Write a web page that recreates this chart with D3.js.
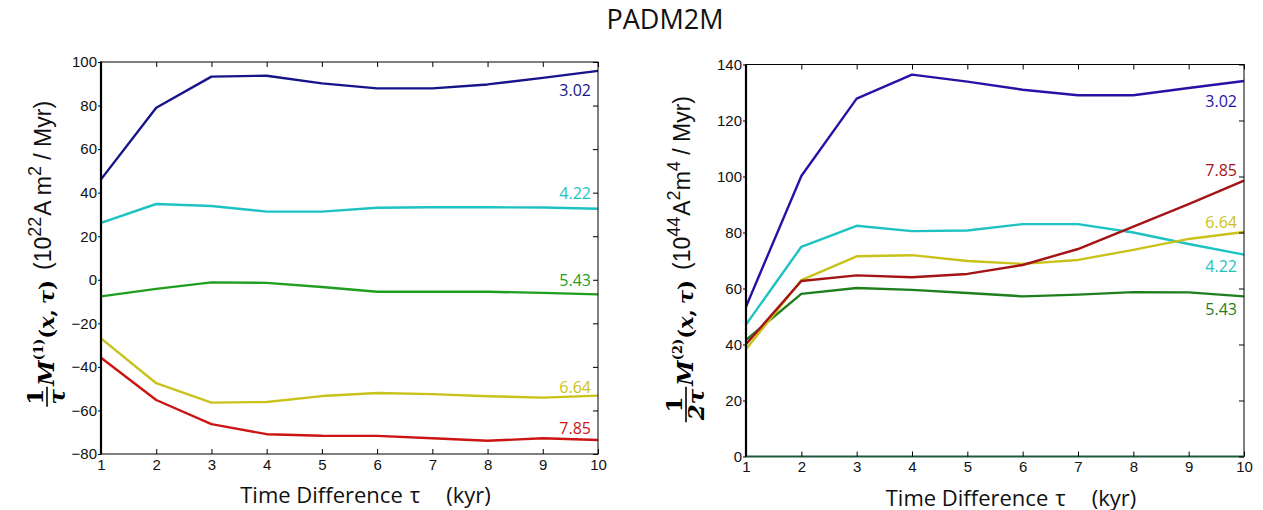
<!DOCTYPE html>
<html>
<head>
<meta charset="utf-8">
<script src="https://cdn.jsdelivr.net/npm/d3@7"></script>
<style>
  body { margin: 0; background: #fff; }
  svg { display: block; }
</style>
</head>
<body>
<svg id="chart" width="1263" height="510"></svg>
<script>
// ---- data -------------------------------------------------------------
const tau = [1, 2, 3, 4, 5, 6, 7, 8, 9, 10];
const seriesNames = ["3.02", "4.22", "5.43", "6.64", "7.85"];

// first moment, 1/τ M(1)(x,τ)  [10^22 A m^2 / Myr]
const m1_302 = [46.1, 79.0, 93.3, 93.7, 90.2, 87.9, 87.9, 89.7, 92.7, 95.9];
const m1_422 = [26.1, 34.8, 33.9, 31.3, 31.3, 33.1, 33.3, 33.3, 33.2, 32.6];
const m1_543 = [-7.6, -4.2, -1.2, -1.4, -3.3, -5.5, -5.5, -5.5, -6.0, -6.7];
const m1_664 = [-26.9, -47.5, -56.4, -56.1, -53.4, -52.0, -52.5, -53.5, -54.1, -53.2];
const m1_785 = [-35.8, -55.2, -66.3, -70.9, -71.6, -71.7, -72.8, -73.9, -72.8, -73.6];

// second moment, 1/2τ M(2)(x,τ)  [10^44 A^2 m^4 / Myr]
const m2_302 = [53.5, 100.2, 127.8, 136.4, 133.9, 131.0, 129.0, 129.0, 131.6, 134.1];
const m2_422 = [47.1, 74.9, 82.4, 80.5, 80.7, 83.0, 83.0, 80.0, 75.9, 72.1];
const m2_543 = [41.6, 58.1, 60.2, 59.5, 58.4, 57.2, 57.8, 58.7, 58.6, 57.2];
const m2_664 = [38.3, 63.0, 71.5, 71.9, 69.8, 68.8, 70.2, 73.8, 77.7, 80.2];
const m2_785 = [40.1, 62.7, 64.7, 64.0, 65.2, 68.4, 74.1, 82.1, 90.1, 98.5];

// where each series name sits (y in data units, next to the line end)
const m1LabelY = [84.4, 37.1, -2.8, -52.0, -70.8];
const m2LabelY = [124.8, 100.2, 81.6, 65.9, 50.5];
const m2LabelOrder = ["3.02", "7.85", "6.64", "4.22", "5.43"];

const m1Ticks = [-80, -60, -40, -20, 0, 20, 40, 60, 80, 100];
const m2Ticks = [0, 20, 40, 60, 80, 100, 120, 140];

// ---- drawing ----------------------------------------------------------
const svg = d3.select("#chart");
const sansTick = "'Liberation Sans', Arial, sans-serif";
const sansText = "'Open Sans', 'Noto Sans', sans-serif";
const serif = "'DejaVu Serif', 'Liberation Serif', serif";
const fmt = d => (d < 0 ? "\u2212" + Math.abs(d) : String(d));

svg.append("text")
  .attr("x", 665).attr("y", 29)
  .attr("text-anchor", "middle")
  .style("font-family", sansText).style("font-size", "27px").style("fill", "#111")
  .text("PADM2M");

function panel(opt) {
  const g = svg.append("g").attr("transform", `translate(${opt.left},${opt.top})`);
  const w = opt.width, h = opt.height;
  const x = d3.scaleLinear().domain([1, 10]).range([0, w]);
  const y = d3.scaleLinear().domain(opt.yDomain).range([h, 0]);

  const line = d3.line().x((d, i) => x(tau[i])).y(d => y(d));
  opt.series.forEach(s => {
    g.append("path").datum(s.values)
      .attr("d", line).attr("fill", "none")
      .attr("stroke", s.color).attr("stroke-width", 2.4)
      .attr("stroke-linejoin", "round");
  });

  // frame
  g.append("rect").attr("x", 0).attr("y", 0).attr("width", w).attr("height", h)
    .attr("fill", "none").attr("stroke", "#000").attr("stroke-width", 1);
  g.append("line").attr("x1", 0).attr("x2", 0).attr("y1", -0.5).attr("y2", h + 0.5)
    .attr("stroke", "#000").attr("stroke-width", 2.2);
  if (opt.zeroLine) {
    g.append("line").attr("x1", 0).attr("x2", w)
      .attr("y1", y(0)).attr("y2", y(0))
      .attr("stroke", opt.zeroLine).attr("stroke-width", 1.8);
  }

  const ay = g.append("g").call(d3.axisLeft(y).tickValues(opt.ticks).tickFormat(fmt)
    .tickSizeInner(3).tickSizeOuter(0).tickPadding(1));
  const ar = g.append("g").attr("transform", `translate(${w},0)`)
    .call(d3.axisLeft(y).tickValues(opt.ticks).tickFormat("").tickSizeInner(5).tickSizeOuter(0));
  const at = g.append("g")
    .call(d3.axisBottom(x).tickValues(tau).tickFormat("").tickSizeInner(5).tickSizeOuter(0));
  const ab = g.append("g").attr("transform", `translate(0,${h})`)
    .call(d3.axisBottom(x).tickValues(tau).tickFormat(d3.format("d"))
      .tickSizeInner(-5).tickSizeOuter(0).tickPadding(5));
  [ay, ar, at, ab].forEach(a => {
    a.select(".domain").remove();
    a.selectAll("line").attr("stroke", "#000").attr("stroke-width", 1);
    a.selectAll("text").style("font-family", sansTick).style("font-size", "15px").attr("fill", "#111");
  });

  // series names near line ends
  opt.labels.forEach(l => {
    g.append("text").attr("x", x(10) - 7).attr("y", y(l.y))
      .attr("text-anchor", "end")
      .style("font-family", sansText).style("font-size", "16px")
      .attr("fill", l.color).text(l.name);
  });

  // x axis title
  const xt = svg.append("text")
    .attr("x", opt.left + w / 2 + 16).attr("y", opt.top + h + 49)
    .attr("text-anchor", "middle")
    .style("font-family", sansText).style("font-size", "22px").attr("fill", "#111");
  xt.append("tspan").text("Time Difference");
  xt.append("tspan").attr("dx", 7).text("\u03c4");
  xt.append("tspan").attr("dx", 26).text("(kyr)");

  // y axis title along a rotated baseline; x' = -screenY
  const yl = svg.append("g")
    .attr("transform", `translate(${opt.labelX},0) rotate(-90)`);

  // units, reading upward from uStart
  const ut = yl.append("text").attr("x", -opt.uStart).attr("y", -3)
    .style("font-family", sansTick).style("font-size", "23px").attr("fill", "#111");
  opt.units.forEach(p => {
    const t = ut.append("tspan").text(p.t);
    if (p.sup) t.style("font-size", "18px").attr("dy", -10);
    if (p.down) t.attr("dy", 10);
    if (p.dx) t.attr("dx", p.dx);
  });

  // M(n)(x, τ), ending just below the units
  const mt = yl.append("text").attr("x", -(opt.uStart + 10)).attr("y", 0)
    .attr("text-anchor", "end")
    .style("font-family", serif).style("font-weight", "bold").attr("fill", "#000");
  mt.append("tspan").style("font-style", "italic").style("font-size", "23px").text("M");
  mt.append("tspan").style("font-size", "13px").attr("dy", -11).text(opt.order);
  mt.append("tspan").style("font-size", "21px").attr("dy", 11).text("(");
  mt.append("tspan").style("font-size", "21px").style("font-style", "italic").text("x");
  mt.append("tspan").style("font-size", "21px").text(",");
  mt.append("tspan").style("font-size", "21px").style("font-style", "italic").attr("dx", 5).text("\u03c4");
  mt.append("tspan").style("font-size", "21px").text(")");
  const mStart = opt.uStart + 10 + mt.node().getComputedTextLength();

  // leading fraction 1/τ or 1/2τ
  const num = yl.append("text").attr("y", -11).attr("text-anchor", "middle")
    .style("font-family", serif).style("font-weight", "bold").style("font-size", "23px")
    .attr("fill", "#000").text("1");
  const den = yl.append("text").attr("y", 11).attr("text-anchor", "middle")
    .style("font-family", serif).style("font-weight", "bold").style("font-style", "italic")
    .style("font-size", "23px").attr("fill", "#000").text(opt.den);
  const fw = Math.max(num.node().getComputedTextLength(), den.node().getComputedTextLength()) + 4;
  const fc = -(mStart + 6 + fw / 2);
  num.attr("x", fc); den.attr("x", fc);
  yl.append("line").attr("x1", fc - fw / 2).attr("x2", fc + fw / 2).attr("y1", -7).attr("y2", -7)
    .attr("stroke", "#000").attr("stroke-width", 1.6);
}

const leftColors = { "3.02": "#16148a", "4.22": "#1fc2c2", "5.43": "#1f9e1f", "6.64": "#c9c21a", "7.85": "#cc1414" };
const rightColors = { "3.02": "#2613a6", "4.22": "#1fc2c2", "5.43": "#1f7f1f", "6.64": "#c9c21a", "7.85": "#a51414" };
const m1Series = [m1_302, m1_422, m1_543, m1_664, m1_785];
const m2Series = [m2_302, m2_422, m2_543, m2_664, m2_785];

panel({
  left: 101, top: 62, width: 497, height: 392,
  yDomain: [-80, 100], ticks: m1Ticks,
  series: seriesNames.map((n, i) => ({ color: leftColors[n], values: m1Series[i] })),
  labels: seriesNames.map((n, i) => ({ name: n, color: leftColors[n], y: m1LabelY[i] })),
  labelX: 54, uStart: 270, den: "\u03c4", order: "(1)",
  units: [{ t: "(10" }, { t: "22", sup: true }, { t: "A", down: true, dx: 1 }, { t: " m" }, { t: "2", sup: true }, { t: " / Myr)", down: true }]
});

panel({
  left: 746, top: 64.5, width: 498, height: 392,
  yDomain: [0, 140], ticks: m2Ticks, zeroLine: "#1d5a3c",
  series: seriesNames.map((n, i) => ({ color: rightColors[n], values: m2Series[i] })),
  labels: m2LabelOrder.map((n, i) => ({ name: n, color: rightColors[n], y: m2LabelY[i] })),
  labelX: 693, uStart: 270, den: "2\u03c4", order: "(2)",
  units: [{ t: "(10" }, { t: "44", sup: true }, { t: "A", down: true, dx: 1 }, { t: "2", sup: true }, { t: "m", down: true }, { t: "4", sup: true }, { t: " / Myr)", down: true }]
});
</script>
</body>
</html>
